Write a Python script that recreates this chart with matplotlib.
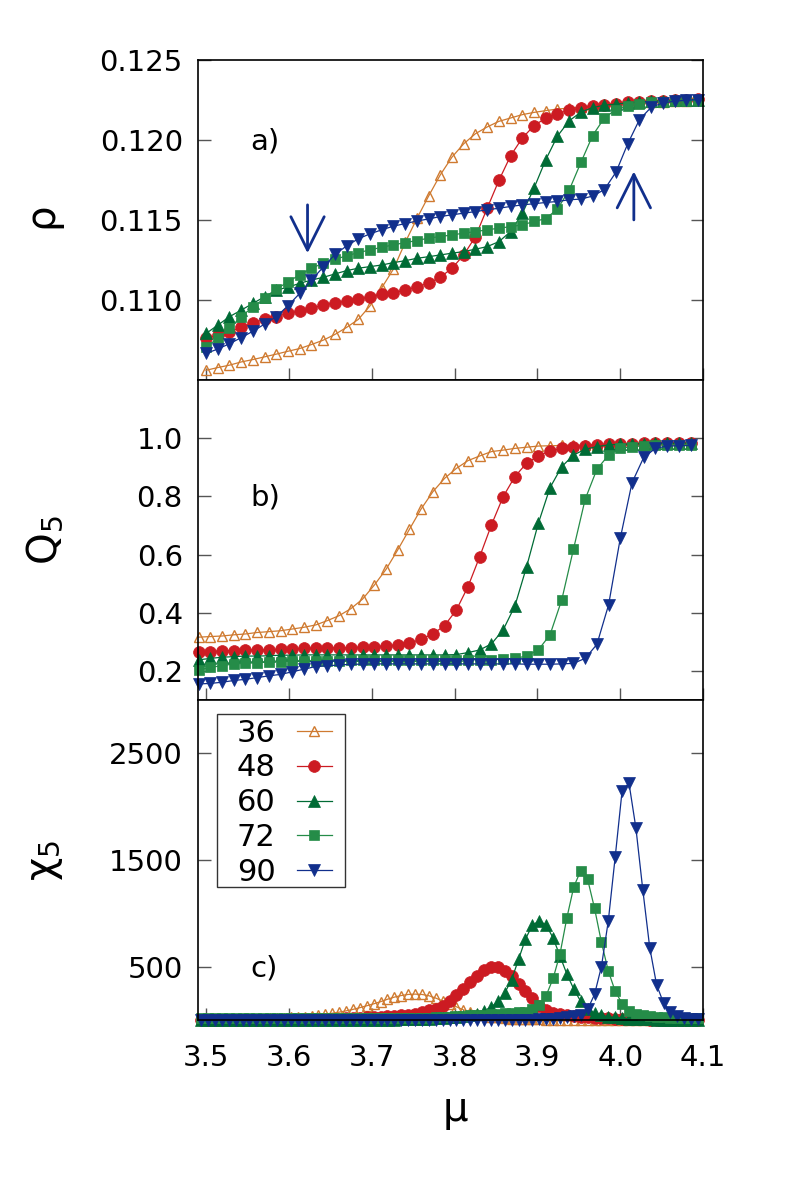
import numpy as np
import matplotlib.pyplot as plt
from matplotlib.patches import Rectangle

# chemical potential grids used by each panel
mu_a = np.linspace(3.500, 4.094, 43)
mu_b = np.linspace(3.491, 4.085, 43)
mu_c = np.linspace(3.494, 4.094, 73)

sizes = ['36', '48', '60', '72', '90']

# panel a: density rho
rho_36 = [0.10561, 0.10578, 0.10593, 0.10613, 0.10628, 0.10645, 0.10662, 0.10680, 0.10697, 0.10722,
          0.10749, 0.10785, 0.10829, 0.10879, 0.10964, 0.11077, 0.11194, 0.11360, 0.11510, 0.11650,
          0.11783, 0.11894, 0.11977, 0.12040, 0.12082, 0.12117, 0.12138, 0.12159, 0.12173, 0.12184,
          0.12194, 0.12200, 0.12207, 0.12213, 0.12219, 0.12224, 0.12229, 0.12233, 0.12237, 0.12241,
          0.12244, 0.12247, 0.12250]
rho_48 = [0.10760, 0.10781, 0.10801, 0.10829, 0.10858, 0.10879, 0.10896, 0.10917, 0.10933, 0.10948,
          0.10969, 0.10983, 0.10994, 0.11006, 0.11021, 0.11038, 0.11046, 0.11063, 0.11083, 0.11105,
          0.11143, 0.11199, 0.11282, 0.11397, 0.11574, 0.11748, 0.11902, 0.12013, 0.12090, 0.12138,
          0.12166, 0.12186, 0.12201, 0.12211, 0.12222, 0.12228, 0.12235, 0.12240, 0.12244, 0.12247,
          0.12250, 0.12252, 0.12254]
rho_60 = [0.10791, 0.10843, 0.10896, 0.10937, 0.10979, 0.11021, 0.11063, 0.11080, 0.11105, 0.11125,
          0.11142, 0.11163, 0.11184, 0.11199, 0.11209, 0.11219, 0.11234, 0.11246, 0.11261, 0.11271,
          0.11282, 0.11293, 0.11303, 0.11318, 0.11334, 0.11365, 0.11428, 0.11541, 0.11700, 0.11877,
          0.12025, 0.12120, 0.12175, 0.12203, 0.12218, 0.12225, 0.12232, 0.12238, 0.12242, 0.12246,
          0.12249, 0.12251, 0.12253]
rho_72 = [0.10707, 0.10760, 0.10823, 0.10896, 0.10958, 0.11010, 0.11067, 0.11115, 0.11157, 0.11199,
          0.11230, 0.11255, 0.11276, 0.11297, 0.11313, 0.11330, 0.11345, 0.11359, 0.11372, 0.11387,
          0.11397, 0.11407, 0.11418, 0.11428, 0.11439, 0.11449, 0.11459, 0.11470, 0.11491, 0.11509,
          0.11569, 0.11687, 0.11860, 0.12028, 0.12138, 0.12191, 0.12216, 0.12228, 0.12237, 0.12240,
          0.12243, 0.12246, 0.12249]
rho_90 = [0.10666, 0.10694, 0.10727, 0.10765, 0.10805, 0.10850, 0.10896, 0.10965, 0.11042, 0.11125,
          0.11206, 0.11285, 0.11338, 0.11383, 0.11414, 0.11439, 0.11462, 0.11478, 0.11494, 0.11507,
          0.11522, 0.11533, 0.11543, 0.11553, 0.11564, 0.11574, 0.11585, 0.11595, 0.11602, 0.11610,
          0.11616, 0.11627, 0.11631, 0.11650, 0.11690, 0.11800, 0.11977, 0.12128, 0.12205, 0.12232,
          0.12243, 0.12249, 0.12253]

# panel b: order parameter Q5
q_36 = [0.316, 0.318, 0.320, 0.324, 0.327, 0.332, 0.335, 0.338, 0.344, 0.350,
        0.358, 0.373, 0.390, 0.414, 0.447, 0.495, 0.549, 0.616, 0.687, 0.757,
        0.816, 0.862, 0.896, 0.923, 0.939, 0.954, 0.959, 0.965, 0.969, 0.973,
        0.974, 0.975, 0.976, 0.977, 0.978, 0.979, 0.980, 0.980, 0.981, 0.981,
        0.982, 0.982, 0.982]
q_48 = [0.266, 0.266, 0.269, 0.270, 0.271, 0.272, 0.272, 0.274, 0.275, 0.277,
        0.278, 0.279, 0.279, 0.280, 0.281, 0.283, 0.286, 0.289, 0.295, 0.309,
        0.327, 0.356, 0.409, 0.490, 0.593, 0.702, 0.799, 0.868, 0.914, 0.939,
        0.956, 0.965, 0.971, 0.974, 0.977, 0.979, 0.980, 0.981, 0.982, 0.982,
        0.983, 0.983, 0.985]
q_60 = [0.238, 0.243, 0.247, 0.249, 0.251, 0.251, 0.252, 0.254, 0.254, 0.255,
        0.255, 0.255, 0.255, 0.255, 0.255, 0.255, 0.255, 0.255, 0.255, 0.255,
        0.255, 0.255, 0.256, 0.263, 0.272, 0.293, 0.341, 0.423, 0.558, 0.707,
        0.830, 0.902, 0.942, 0.962, 0.971, 0.977, 0.979, 0.980, 0.981, 0.982,
        0.982, 0.983, 0.983]
q_72 = [0.203, 0.212, 0.218, 0.224, 0.226, 0.228, 0.232, 0.232, 0.234, 0.234,
        0.235, 0.235, 0.235, 0.236, 0.236, 0.236, 0.236, 0.237, 0.237, 0.237,
        0.237, 0.237, 0.238, 0.238, 0.238, 0.239, 0.240, 0.243, 0.251, 0.272,
        0.324, 0.444, 0.618, 0.790, 0.893, 0.942, 0.965, 0.971, 0.974, 0.977,
        0.977, 0.977, 0.977]
q_90 = [0.155, 0.157, 0.161, 0.167, 0.171, 0.177, 0.183, 0.188, 0.197, 0.206,
        0.215, 0.218, 0.220, 0.223, 0.223, 0.224, 0.224, 0.224, 0.224, 0.224,
        0.224, 0.224, 0.224, 0.224, 0.224, 0.224, 0.224, 0.224, 0.223, 0.223,
        0.223, 0.224, 0.226, 0.243, 0.291, 0.427, 0.656, 0.847, 0.934, 0.965,
        0.973, 0.974, 0.975]

# panel c: susceptibility chi5
chi_36 = [3, 4, 5, 6, 7, 8, 9, 10, 12, 14, 16, 18, 21,
          24, 28, 33, 39, 46, 54,
          64, 74, 86, 100, 116, 134, 152, 172, 195, 215, 230, 240, 243, 240, 228, 206,
          178, 150, 124, 96, 75, 58, 44, 33, 25, 19, 14, 11, 8,
          7, 6, 5, 5, 4, 4, 3, 3, 3, 2, 2, 2, 2, 2, 1, 1, 1, 1, 1, 1, 1, 1, 1, 1, 1]
chi_48 = [2, 2, 2, 2, 2, 2, 2, 2, 2, 2, 2,
          3, 3, 4, 5, 6, 7, 8, 10, 12, 14,
          16, 18, 21, 24, 27, 31, 35, 40,
          45, 52, 60, 74, 90, 108, 135, 175, 235, 295, 355, 410, 465, 500, 498, 460,
          410, 340, 275, 205, 135, 92, 70, 55,
          45, 38, 32, 26, 22, 18, 15, 12, 10, 8, 7, 6, 5, 4, 4, 3, 3, 2, 2, 2]
chi_60 = [0] * 26 + [2, 3, 5, 6,
          8, 10, 12, 14, 17, 20, 24, 29, 35, 45,
          60, 88, 118, 175, 255, 380, 570, 760, 890, 930, 890, 770, 600, 430, 290, 175,
          100, 65, 45, 32, 24, 18, 13, 10, 8, 6, 5, 4, 3, 3, 2, 2, 2]
chi_72 = [15] * 31 + [18, 20, 22, 25, 28, 32, 36, 40, 44, 48, 52, 56, 60, 65, 70, 75,
          80, 100, 145, 230, 390, 620, 960, 1250, 1400, 1320, 1050, 730, 460, 270, 155, 85,
          60, 45, 38, 32, 27, 23, 20, 18, 16, 15]
chi_90 = [0] * 46 + [2, 3, 4, 6, 8, 11, 16, 24, 35,
          50, 100, 240, 500, 930, 1530, 2150, 2220, 1800, 1220, 680, 330, 160, 78, 35,
          18, 10, 6]

colors = ['#cf7a30', '#cc1b22', '#006b35', '#258c48', '#112f8c']
markers = ['^', 'o', '^', 's', 'v']
msizes = [7.5, 8.5, 8, 7.8, 8]

fig = plt.figure(figsize=(7.89, 11.85), dpi=100)
L, W, H = 0.2510, 0.6400, 0.2700
ax1 = fig.add_axes([L, 0.6793, W, H])
ax2 = fig.add_axes([L, 0.4093, W, H])
ax3 = fig.add_axes([L, 0.1392, W, H])


def draw(ax, x, ys):
    lines = []
    for y, c, m, s in zip(ys, colors, markers, msizes):
        if m == '^' and c == colors[0]:
            ln, = ax.plot(x, y, color=c, lw=0.9, marker=m, ms=s, mfc='none',
                          mec=c, mew=1.0, clip_on=False)
        else:
            ln, = ax.plot(x, y, color=c, lw=0.9, marker=m, ms=s, mfc=c,
                          mec=c, mew=0.5, clip_on=False)
        lines.append(ln)
    return lines


draw(ax1, mu_a, [rho_36, rho_48, rho_60, rho_72, rho_90])
draw(ax2, mu_b, [q_36, q_48, q_60, q_72, q_90])
lines = draw(ax3, mu_c, [chi_36, chi_48, chi_60, chi_72, chi_90])

xticks = [3.5, 3.6, 3.7, 3.8, 3.9, 4.0, 4.1]
for ax in (ax1, ax2, ax3):
    ax.set_xlim(3.4903, 4.1)
    ax.set_xticks(xticks)
    ax.tick_params(axis='both', direction='in', length=9, width=1, color='#555555',
                   left=True, right=True, top=False, bottom=True, labelsize=21)
    ax.tick_params(axis='y', pad=11)
    ax.tick_params(axis='x', pad=17)
    for sp in ax.spines.values():
        sp.set_linewidth(1.2)
for ax in (ax1, ax2):
    ax.tick_params(labelbottom=False)
ax3.set_xticklabels(['3.5', '3.6', '3.7', '3.8', '3.9', '4.0', '4.1'])

ax1.set_ylim(0.105, 0.125)
ax1.set_yticks([0.110, 0.115, 0.120, 0.125])
ax1.set_yticklabels(['0.110', '0.115', '0.120', '0.125'])
ax2.set_ylim(0.1, 1.2)
ax2.set_yticks([0.2, 0.4, 0.6, 0.8, 1.0])
ax2.set_yticklabels(['0.2', '0.4', '0.6', '0.8', '1.0'])
ax3.set_ylim(0, 3000)
ax3.set_yticks([500, 1500, 2500])
ax3.set_yticklabels(['500', '1500', '2500'])

# arrows marking the hysteresis branches
navy = '#112f8c'
astyle = '->,head_length=1.2,head_width=0.6'
ax1.annotate('', xy=(3.6225, 0.11293), xytext=(3.6225, 0.11595),
             arrowprops=dict(arrowstyle=astyle, color=navy, lw=2, mutation_scale=20,
                             shrinkA=0, shrinkB=0))
ax1.annotate('', xy=(4.0165, 0.11804), xytext=(4.0165, 0.11501),
             arrowprops=dict(arrowstyle=astyle, color=navy, lw=2, mutation_scale=20,
                             shrinkA=0, shrinkB=0))

ax1.text(0.103, 0.744, 'a)', transform=ax1.transAxes, fontsize=21, va='center')
ax2.text(0.103, 0.634, 'b)', transform=ax2.transAxes, fontsize=21, va='center')
ax3.text(0.103, 0.1625, 'c)', transform=ax3.transAxes, fontsize=21, va='center')

fig.text(0.053, 0.818, 'ρ', fontsize=29, rotation=90, ha='center', va='center')
fig.text(0.057, 0.544, r'Q$_\mathregular{5}$', fontsize=29, rotation=90, ha='center', va='center')
fig.text(0.057, 0.274, r'χ$_\mathregular{5}$', fontsize=29, rotation=90, ha='center', va='center')
fig.text(0.577, 0.063, 'μ', fontsize=29, ha='center', va='center')

# legend: label first, sample line after, inside a plain box
ax3.add_patch(Rectangle((0.0376, 0.4166), 0.2535, 0.5397, transform=ax3.transAxes,
                        fill=False, ec='#333333', lw=1.0, zorder=5))
ax3.legend(lines, sizes, loc='upper left', bbox_to_anchor=(0.0766, 0.942),
           frameon=False, markerfirst=False, fontsize=22, borderpad=0, borderaxespad=0,
           labelspacing=0.19, handlelength=1.13, handletextpad=0.7)

fig.savefig('out.png', dpi=100)
